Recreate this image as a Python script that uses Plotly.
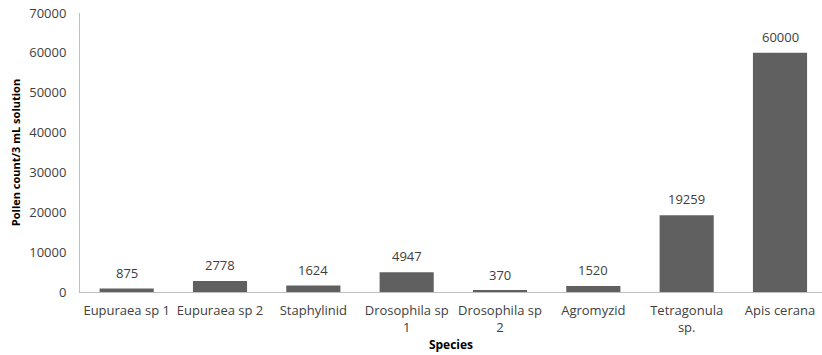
import plotly.graph_objects as go

species = ["Eupuraea sp 1", "Eupuraea sp 2", "Staphylinid", "Drosophila sp<br>1",
           "Drosophila sp<br>2", "Agromyzid", "Tetragonula<br>sp.", "Apis cerana"]
counts = [875, 2778, 1624, 4947, 370, 1520, 19259, 60000]
y_ticks = [0, 10000, 20000, 30000, 40000, 50000, 60000, 70000]

font = "Open Sans"
xs = list(range(len(species)))
fig = go.Figure(go.Bar(
    x=xs, y=counts,
    marker=dict(color="#606060", line=dict(width=0)),
    width=0.58,
))
for xi, c in zip(xs, counts):
    fig.add_annotation(x=xi, y=c, text=str(c), showarrow=False, yanchor="bottom",
                       yshift=5, font=dict(family=font, size=13, color="#404040"))
fig.update_layout(
    width=822, height=355,
    margin=dict(l=80, r=0, t=13, b=63),
    plot_bgcolor="white", paper_bgcolor="white",
    showlegend=False,
    font=dict(family=font, size=13, color="#404040"),
)
fig.update_xaxes(
    tickmode="array", tickvals=xs, ticktext=species,
    range=[-0.5, 7.45], showgrid=False, showline=True, linecolor="#bfbfbf", linewidth=1,
    ticks="", ticklabelstandoff=6, tickfont=dict(family=font, size=13, color="#404040"),
    title=dict(text="<b>Species</b>", font=dict(family=font, size=12, color="#000000"), standoff=6),
    zeroline=False,
)
fig.update_yaxes(
    range=[0, 70000], tickmode="array", tickvals=y_ticks, ticktext=[str(v) for v in y_ticks],
    showgrid=False, showline=True, linecolor="#bfbfbf", linewidth=1, zeroline=False,
    ticks="", ticklabelstandoff=10, tickfont=dict(family=font, size=13, color="#404040"),
    title=dict(text="<b>Pollen count/3 mL solution</b>", font=dict(family=font, size=11, color="#000000"), standoff=6),
)
fig.write_html("out.html")
